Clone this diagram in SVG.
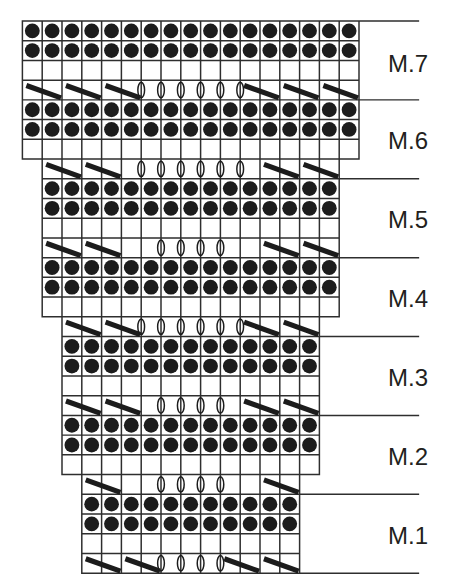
<svg xmlns="http://www.w3.org/2000/svg" width="450" height="588" viewBox="0 0 450 588">
<style>
.g{fill:none;stroke:#2e2e2e;stroke-width:.075;stroke-linecap:square}
.dt{fill:#1c1c1c}
.sl{fill:none;stroke:#1c1c1c;stroke-width:.26}
.yo ellipse{fill:none;stroke:#1c1c1c;stroke-width:.075}
.lb{font-family:"Liberation Sans",Arial,sans-serif;font-size:24px;fill:#231f20}
</style>
<defs>
<g id="col"><circle cx=".5" cy=".5" r=".375"/><circle cx=".5" cy="1.5" r=".375"/></g>
<g id="p11"><use href="#col"/><use href="#col" x="1"/><use href="#col" x="2"/><use href="#col" x="3"/><use href="#col" x="4"/><use href="#col" x="5"/><use href="#col" x="6"/><use href="#col" x="7"/><use href="#col" x="8"/><use href="#col" x="9"/><use href="#col" x="10"/></g>
<g id="p13"><use href="#p11"/><use href="#col" x="11"/><use href="#col" x="12"/></g>
<g id="p15"><use href="#p13"/><use href="#col" x="13"/><use href="#col" x="14"/></g>
<g id="p17"><use href="#p15"/><use href="#col" x="15"/><use href="#col" x="16"/></g>
</defs>
<rect width="450" height="588" fill="#fff"/>
<g id="chart" transform="translate(22.4 21) scale(19.8 19.72)">
<path id="grid" class="g" d="M0 0H20M0 1H17M0 2H17M0 3H17M0 4H20M0 5H17M0 6H17M0 7H17M1 8H20M1 9H16M1 10H16M1 11H16M1 12H20M1 13H16M1 14H16M1 15H16M2 16H20M2 17H15M2 18H15M2 19H15M2 20H20M2 21H15M2 22H15M2 23H15M3 24H20M3 25H14M3 26H14M3 27H14M3 28H20M0 0V7M1 0V15M2 0V23M3 0V28M4 0V28M5 0V28M6 0V28M7 0V28M8 0V28M9 0V28M10 0V28M11 0V28M12 0V28M13 0V28M14 0V28M15 0V23M16 0V15M17 0V7"/>
<g id="dots" class="dt">
<use href="#p17"/><use href="#p17" y="4"/>
<use href="#p15" x="1" y="8"/><use href="#p15" x="1" y="12"/>
<use href="#p13" x="2" y="16"/><use href="#p13" x="2" y="20"/>
<use href="#p11" x="3" y="24"/>
</g>
<path id="slashes" class="sl" d="M0.2 3.27L1.95 3.9M2.2 3.27L3.95 3.9M4.2 3.27L5.95 3.9M11.2 3.27L12.95 3.9M13.2 3.27L14.95 3.9M15.2 3.27L16.95 3.9M1.2 7.27L2.95 7.9M3.2 7.27L4.95 7.9M12.2 7.27L13.95 7.9M14.2 7.27L15.95 7.9M1.2 11.27L2.95 11.9M3.2 11.27L4.95 11.9M12.2 11.27L13.95 11.9M14.2 11.27L15.95 11.9M2.2 15.27L3.95 15.9M4.2 15.27L5.95 15.9M11.2 15.27L12.95 15.9M13.2 15.27L14.95 15.9M2.2 19.27L3.95 19.9M4.2 19.27L5.95 19.9M11.2 19.27L12.95 19.9M13.2 19.27L14.95 19.9M3.2 23.27L4.95 23.9M12.2 23.27L13.95 23.9M3.2 27.27L4.95 27.9M5.2 27.27L6.95 27.9M10.2 27.27L11.95 27.9M12.2 27.27L13.95 27.9"/>
<g id="yarnovers" class="yo">
<ellipse cx="6" cy="3.5" rx=".17" ry=".39"/><ellipse cx="7" cy="3.5" rx=".17" ry=".39"/><ellipse cx="8" cy="3.5" rx=".17" ry=".39"/><ellipse cx="9" cy="3.5" rx=".17" ry=".39"/><ellipse cx="10" cy="3.5" rx=".17" ry=".39"/><ellipse cx="11" cy="3.5" rx=".17" ry=".39"/>
<ellipse cx="6" cy="7.5" rx=".17" ry=".39"/><ellipse cx="7" cy="7.5" rx=".17" ry=".39"/><ellipse cx="8" cy="7.5" rx=".17" ry=".39"/><ellipse cx="9" cy="7.5" rx=".17" ry=".39"/><ellipse cx="10" cy="7.5" rx=".17" ry=".39"/><ellipse cx="11" cy="7.5" rx=".17" ry=".39"/>
<ellipse cx="7" cy="11.5" rx=".17" ry=".39"/><ellipse cx="8" cy="11.5" rx=".17" ry=".39"/><ellipse cx="9" cy="11.5" rx=".17" ry=".39"/><ellipse cx="10" cy="11.5" rx=".17" ry=".39"/>
<ellipse cx="6" cy="15.5" rx=".17" ry=".39"/><ellipse cx="7" cy="15.5" rx=".17" ry=".39"/><ellipse cx="8" cy="15.5" rx=".17" ry=".39"/><ellipse cx="9" cy="15.5" rx=".17" ry=".39"/><ellipse cx="10" cy="15.5" rx=".17" ry=".39"/><ellipse cx="11" cy="15.5" rx=".17" ry=".39"/>
<ellipse cx="7" cy="19.5" rx=".17" ry=".39"/><ellipse cx="8" cy="19.5" rx=".17" ry=".39"/><ellipse cx="9" cy="19.5" rx=".17" ry=".39"/><ellipse cx="10" cy="19.5" rx=".17" ry=".39"/>
<ellipse cx="7" cy="23.5" rx=".17" ry=".39"/><ellipse cx="8" cy="23.5" rx=".17" ry=".39"/><ellipse cx="9" cy="23.5" rx=".17" ry=".39"/><ellipse cx="10" cy="23.5" rx=".17" ry=".39"/>
<ellipse cx="7" cy="27.5" rx=".17" ry=".39"/><ellipse cx="8" cy="27.5" rx=".17" ry=".39"/><ellipse cx="9" cy="27.5" rx=".17" ry=".39"/><ellipse cx="10" cy="27.5" rx=".17" ry=".39"/>
</g>
</g>
<g id="labels" class="lb">
<text x="388" y="71.5">M.7</text>
<text x="388" y="148.5">M.6</text>
<text x="388" y="228.3">M.5</text>
<text x="388" y="306.8">M.4</text>
<text x="388" y="385.5">M.3</text>
<text x="388" y="465">M.2</text>
<text x="388" y="543.5">M.1</text>
</g>
</svg>
